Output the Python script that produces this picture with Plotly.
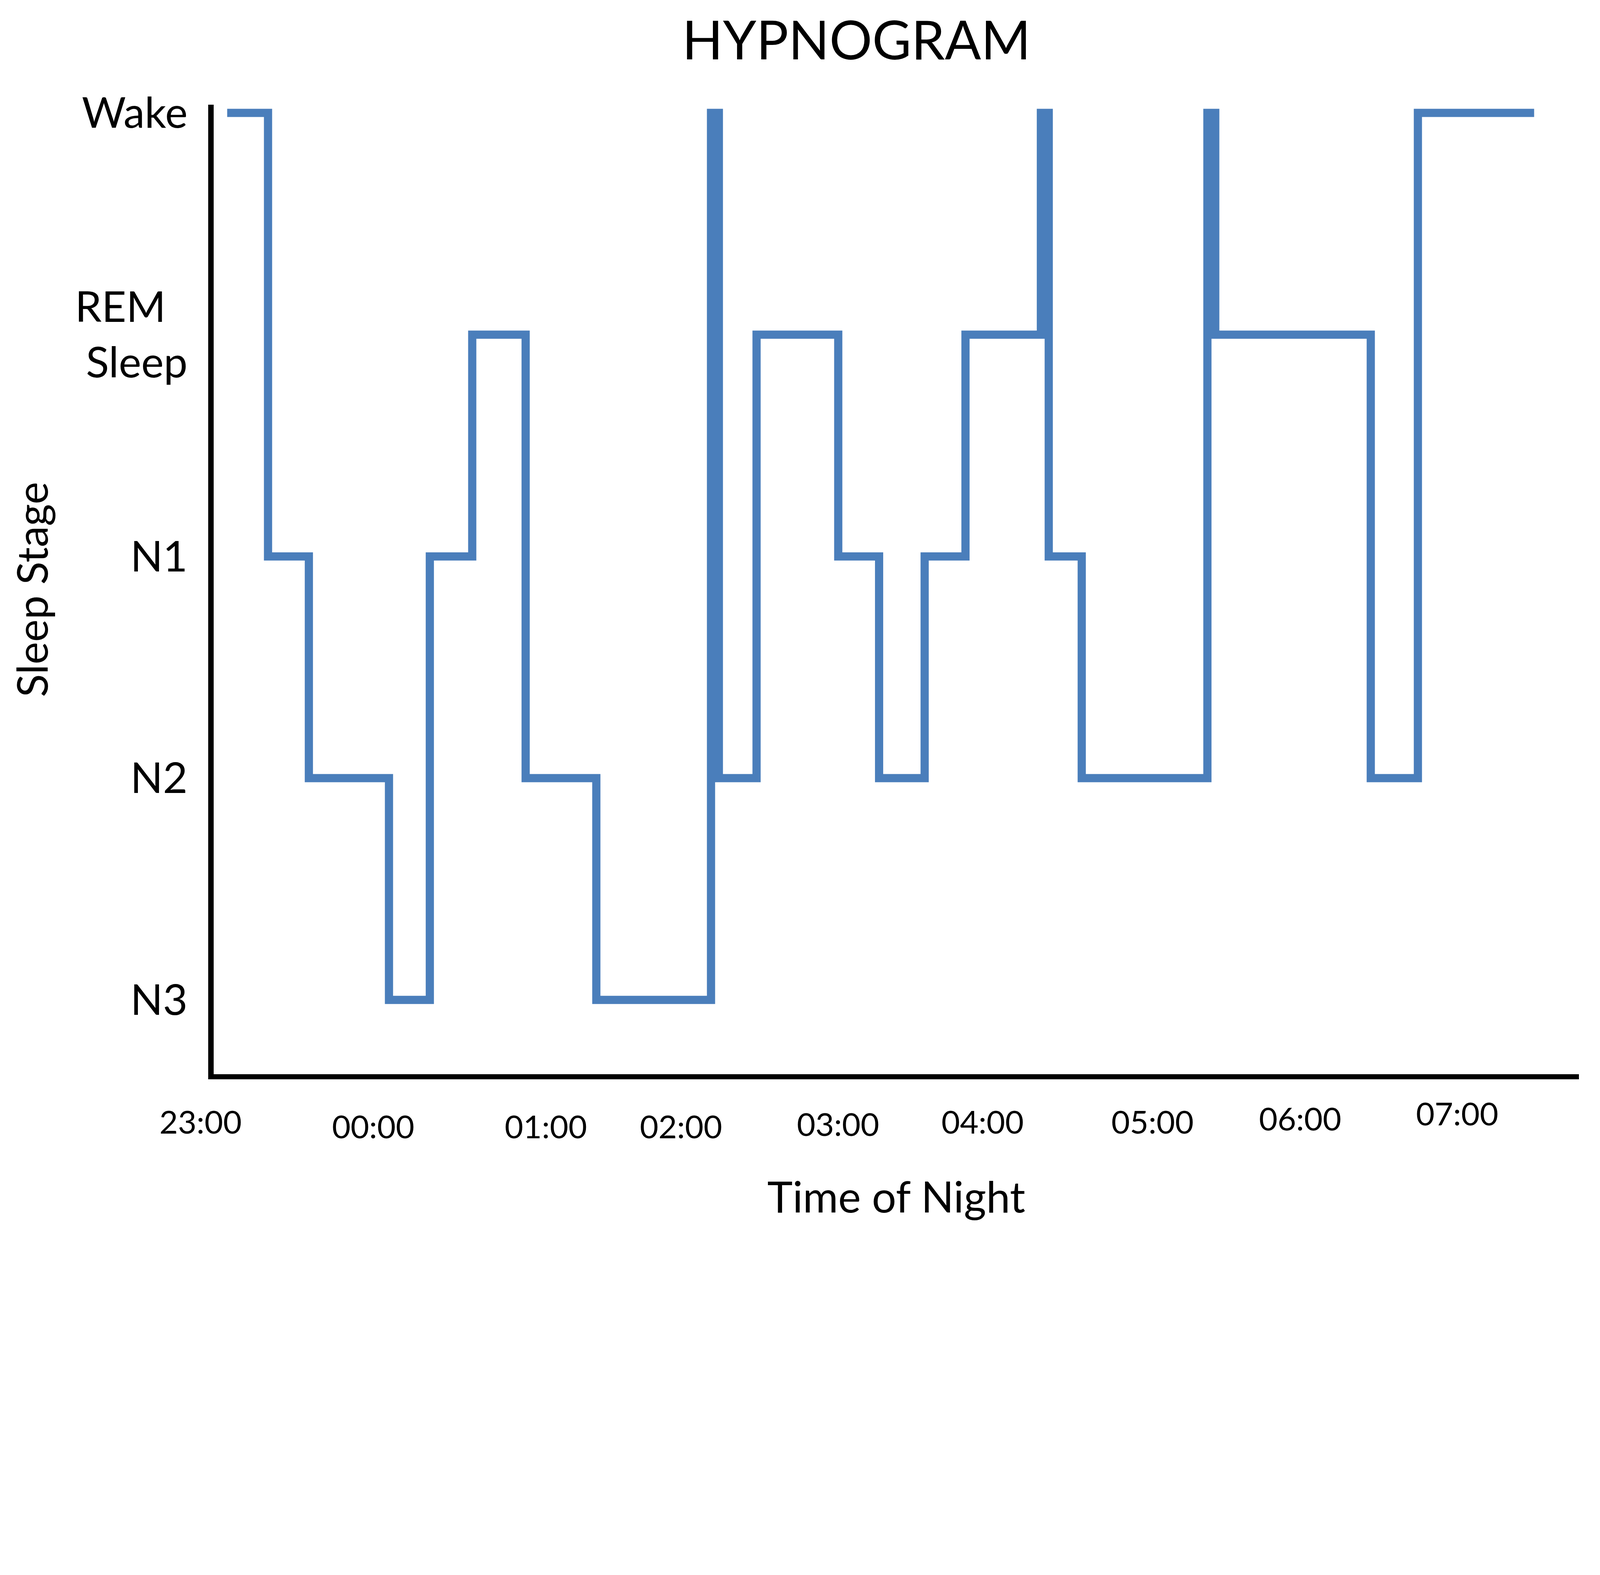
import plotly.graph_objects as go

# ---- data ----
stage_names = ["N3", "N2", "N1", "REM\u00a0\u00a0<br>Sleep", "Wake"]
stage_levels = [0, 1, 2, 3, 4]

# hours after 23:00 at which each stage begins, and the stage entered
change_hours = [0.17, 0.43, 0.69, 1.20, 1.46, 1.73, 2.07, 2.52, 3.25, 3.30,
                3.54, 4.06, 4.32, 4.61, 4.87, 5.35, 5.40, 5.61, 6.41, 6.46,
                7.45, 7.75, 8.49]
stage_values = [4, 2, 1, 0, 2, 3, 1, 0, 4, 1,
                3, 2, 1, 2, 3, 4, 2, 1, 4, 3,
                1, 4, 4]

time_labels = ["23:00", "00:00", "01:00", "02:00", "03:00",
               "04:00", "05:00", "06:00", "07:00"]
time_label_hours = [0.0, 1.10, 2.20, 3.06, 4.06, 4.98, 6.06, 7.00, 8.00]

# ---- styles ----
S = 1 / 1.28          # compensate for the page's device scale
FONT = "Lato"
X_RANGE = [0.084, 8.775]
Y_RANGE = [-0.335, 4.037]
label_yshift = [-154, -169, -169, -169, -161, -154, -154, -144, -127]


def px(v):
    return round(v * S)


fig = go.Figure()
fig.add_trace(go.Scatter(
    x=change_hours, y=stage_values, mode="lines", line_shape="hv",
    line=dict(color="#4A7EBB", width=px(27)), showlegend=False, cliponaxis=False,
))

x_span = X_RANGE[1] - X_RANGE[0]
for lab, h, ys in zip(time_labels, time_label_hours, label_yshift):
    fig.add_annotation(x=(h - X_RANGE[0]) / x_span, y=0, xref="paper", yref="paper",
                       text=lab, showarrow=False, xanchor="center", yanchor="middle",
                       yshift=px(ys),
                       font=dict(family=FONT, size=px(105), color="black"))

fig.update_layout(
    width=round(5207 * S), height=round(4032 * S),
    paper_bgcolor="white", plot_bgcolor="white",
    margin=dict(l=px(690), r=px(44), t=px(333), b=px(522)),
    title=dict(text="HYPNOGRAM", x=0.537, xanchor="center", y=0.9695,
               yanchor="middle", font=dict(family=FONT, size=px(175), color="black")),
    xaxis=dict(range=X_RANGE, showgrid=False, zeroline=False,
               showticklabels=False, ticks="",
               showline=True, linecolor="black", linewidth=px(17),
               title=dict(text="Time of Night", standoff=px(345),
                          font=dict(family=FONT, size=px(141), color="black"))),
    yaxis=dict(range=Y_RANGE, showgrid=False, zeroline=False,
               tickvals=stage_levels, ticktext=stage_names, ticks="",
               ticklabelstandoff=px(40),
               tickfont=dict(family=FONT, size=px(140), color="black"),
               showline=True, linecolor="black", linewidth=px(18),
               title=dict(text="Sleep Stage", standoff=px(50),
                          font=dict(family=FONT, size=px(140), color="black"))),
)

fig.write_html("out.html")
